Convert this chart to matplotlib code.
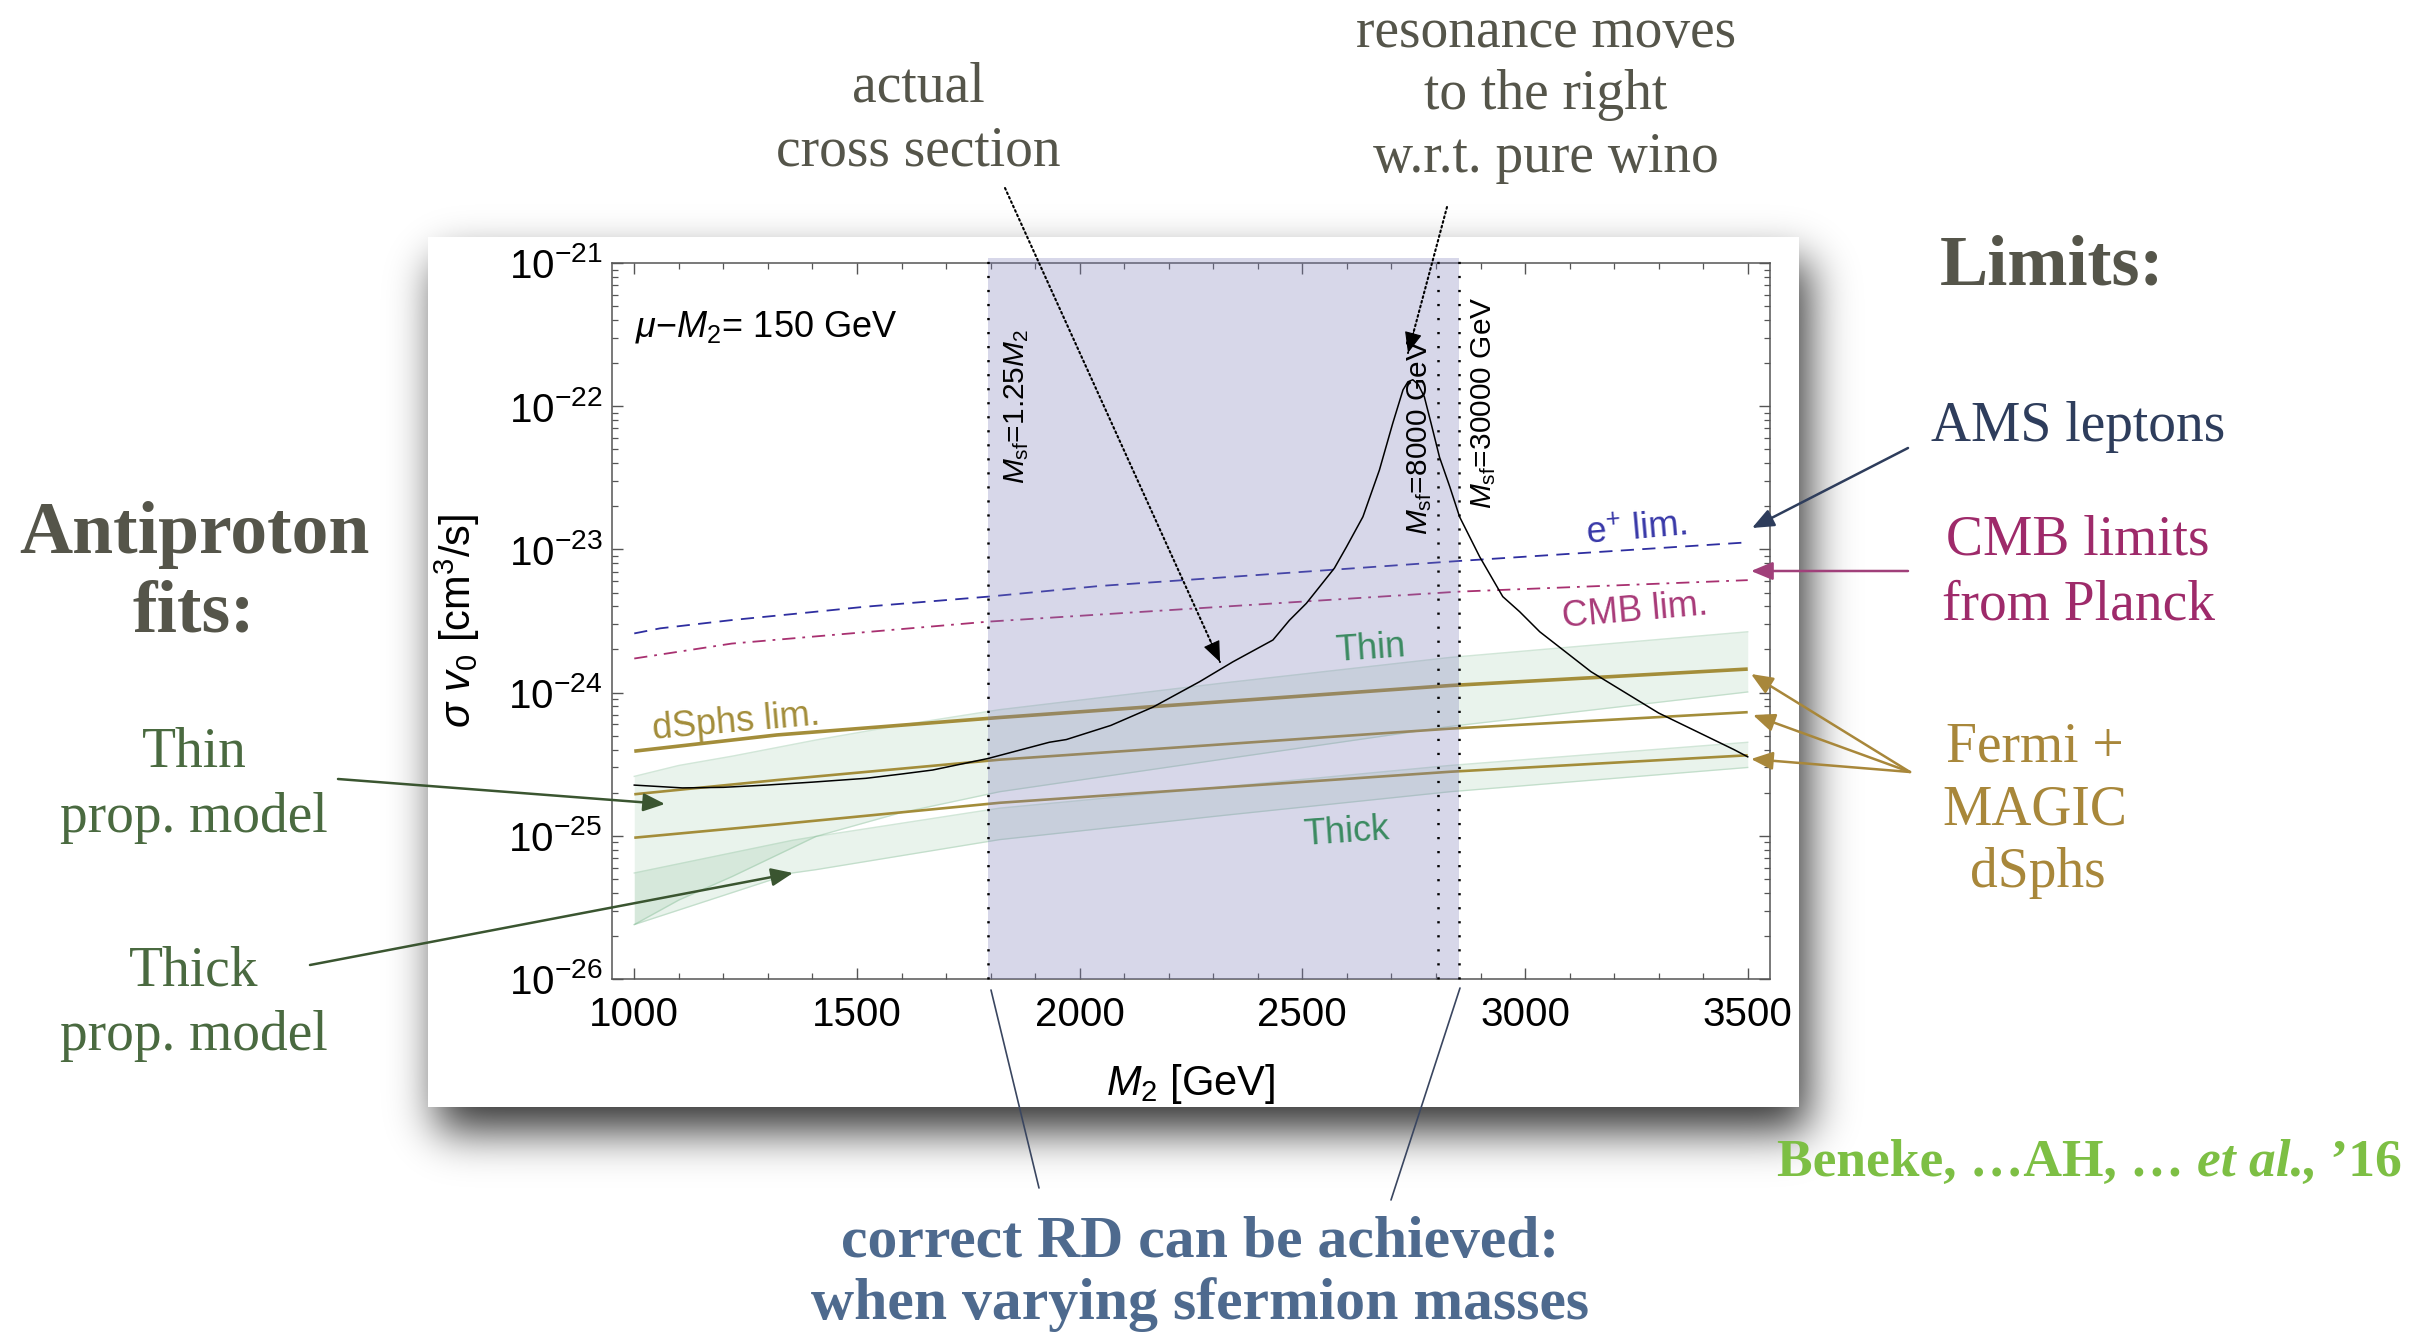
import numpy as np
import matplotlib
matplotlib.use('Agg')
import matplotlib.pyplot as plt
from matplotlib.patches import Rectangle
from matplotlib.ticker import LogLocator, MultipleLocator, NullFormatter

plt.rcParams['font.family'] = 'Liberation Sans'
plt.rcParams['mathtext.fontset'] = 'custom'
plt.rcParams['mathtext.rm'] = 'Liberation Sans'
plt.rcParams['mathtext.it'] = 'Liberation Sans:italic'
plt.rcParams['mathtext.bf'] = 'Liberation Sans:bold'
plt.rcParams['lines.scale_dashes'] = False

SERIF = 'Liberation Serif'
W, H = 2432, 1334

# annihilation cross section vs M2 (mu - M2 = 150 GeV)
m2_curve = [1000, 1108, 1200, 1296, 1400, 1520, 1600, 1670, 1795, 1932, 1970,
            2070, 2164, 2269, 2344, 2434, 2471, 2509, 2572, 2599, 2636, 2673,
            2703, 2726, 2737, 2748, 2760, 2774, 2789, 2808, 2831, 2853, 2898,
            2950, 2988, 3033, 3148, 3300, 3469, 3500]
sv_curve = [2.26e-25, 2.16e-25, 2.18e-25, 2.26e-25, 2.37e-25, 2.52e-25, 2.7e-25,
            2.88e-25, 3.47e-25, 4.5e-25, 4.7e-25, 5.9e-25, 7.9e-25, 1.19e-24,
            1.64e-24, 2.33e-24, 3.2e-24, 4.2e-24, 7.4e-24, 1.04e-23, 1.69e-23,
            3.58e-23, 7.6e-23, 1.3e-22, 1.48e-22, 1.53e-22, 1.42e-22, 1.16e-22,
            7.6e-23, 4.4e-23, 2.74e-23, 1.69e-23, 8.9e-24, 4.68e-24, 3.67e-24,
            2.66e-24, 1.4e-24, 7.2e-25, 4.0e-25, 3.56e-25]

# antiproton fit regions
m2_thin = [1000, 1100, 1220, 1408, 1595, 1820, 2325, 2831, 3500]
thin_hi = [2.6e-25, 3.1e-25, 3.6e-25, 4.67e-25, 5.9e-25, 7.6e-25, 1.17e-24, 1.76e-24, 2.66e-24]
thin_lo = [2.4e-26, 3.56e-26, 5.2e-26, 9.9e-26, 1.44e-25, 2.03e-25, 3.44e-25, 5.8e-25, 1.01e-24]

m2_thick = [1000, 1355, 1408, 1820, 2325, 2831, 3500]
thick_hi = [5.5e-26, 9.3e-26, 9.9e-26, 1.56e-25, 2.2e-25, 3.1e-25, 4.5e-25]
thick_lo = [2.4e-26, 5.5e-26, 5.8e-26, 9.4e-26, 1.39e-25, 2.03e-25, 3.0e-25]

# Fermi + MAGIC dwarf spheroidal limits
m2_dsph = [1000, 1320, 1820, 2831, 3500]
dsph_a = [3.9e-25, 5.06e-25, 6.7e-25, 1.12e-24, 1.46e-24]
dsph_b = [1.95e-25, 2.45e-25, 3.4e-25, 5.6e-25, 7.3e-25]
dsph_c = [9.7e-26, 1.2e-25, 1.7e-25, 2.8e-25, 3.65e-25]

# AMS positron and CMB (Planck) limits
m2_pos = [1000, 1058, 1219, 1369, 1519, 1795, 2044, 2851, 3500]
pos_lim = [2.59e-24, 2.81e-24, 3.21e-24, 3.57e-24, 3.98e-24, 4.68e-24, 5.55e-24, 8.3e-24, 1.12e-23]
m2_cmb = [1000, 1219, 1795, 2851, 3500]
cmb_lim = [1.73e-24, 2.2e-24, 3.13e-24, 5.07e-24, 6.1e-24]

# sfermion mass boundaries (M2 where the relic density fits)
msf_lines = [1795, 2804, 2852]
msf_labels = [r'$M_{\rm sf}$=1.25$M_2$', r'$M_{\rm sf}$=8000 GeV', r'$M_{\rm sf}$=30000 GeV']
msf_label_pos = [(1858, 9.9e-23), (2763, 6.1e-23), (2907, 1.05e-22)]

GOLD = '#a38d3a'
GREEN_BAND = (108 / 255, 175 / 255, 128 / 255)


def fx(px):
    return px / W


def fy(py):
    return 1 - py / H


def panel_shadow(x0, y0, x1, y1, dx=9, dy=24, sigma=22, depth=0.8):
    mask = np.zeros((H, W))
    mask[y0 + dy:y1 + dy, x0 + dx:x1 + dx] = 1.0
    ky = np.fft.fftfreq(H)[:, None]
    kx = np.fft.rfftfreq(W)[None, :]
    g = np.exp(-2 * np.pi ** 2 * sigma ** 2 * (kx ** 2 + ky ** 2))
    soft = np.fft.irfft2(np.fft.rfft2(mask) * g, s=(H, W))
    rgba = np.zeros((H, W, 4))
    rgba[..., 3] = np.clip(soft, 0, 1) * depth
    return rgba


fig = plt.figure(figsize=(W / 100, H / 100), dpi=100)
fig.patch.set_facecolor('white')

# white card with drop shadow behind the plot
px0, py0, px1, py1 = 428, 237, 1799, 1107
fig.figimage(panel_shadow(px0, py0, px1, py1), xo=0, yo=0, origin='upper', zorder=-2)
fig.add_artist(Rectangle((fx(px0), fy(py1)), (px1 - px0) / W, (py1 - py0) / H,
                         transform=fig.transFigure, facecolor='white',
                         edgecolor='none', zorder=-1))

ax = fig.add_axes([fx(612), fy(979), (1770 - 612) / W, (979 - 263) / H])
ax.set_zorder(1)
ax.set_yscale('log')
ax.set_xlim(950, 3550)
ax.set_ylim(1e-26, 1e-21)

# bands
for xs, lo, hi in [(m2_thin, thin_lo, thin_hi), (m2_thick, thick_lo, thick_hi)]:
    ax.fill_between(xs, lo, hi, color=GREEN_BAND, alpha=0.15, lw=0, zorder=1)
    ax.plot(xs, lo, color=GREEN_BAND, alpha=0.3, lw=1.0, zorder=1)
    ax.plot(xs, hi, color=GREEN_BAND, alpha=0.3, lw=1.0, zorder=1)

ax.plot(m2_dsph, dsph_a, color=GOLD, lw=2.6, zorder=2, solid_capstyle='butt')
ax.plot(m2_dsph, dsph_b, color=GOLD, lw=1.9, zorder=2, solid_capstyle='butt')
ax.plot(m2_dsph, dsph_c, color=GOLD, lw=1.9, zorder=2, solid_capstyle='butt')

ax.plot(m2_pos, pos_lim, color='#2e2ea0', lw=1.3, dashes=[9.5, 6], zorder=2)
ax.plot(m2_cmb, cmb_lim, color='#a83070', lw=1.3, dashes=[9.5, 5, 2, 5], zorder=2)

# region where the relic density can be reached
ax.axvspan(msf_lines[0], msf_lines[2], ymin=0, ymax=1.007, facecolor=(125 / 255, 125 / 255, 185 / 255),
           alpha=0.3, lw=0, zorder=3, clip_on=False)
for m in msf_lines:
    ax.axvline(m, ymin=0, ymax=1.007, color='black', lw=1.8, dashes=[1.6, 8.5], zorder=4,
               clip_on=False)

ax.plot(m2_curve, sv_curve, color='black', lw=1.1, zorder=4)

# text inside the frame
ax.text(1002, 3.6e-22, r'$\mu$$-$$M_2$= 150 GeV', fontsize=26, ha='left', va='center', zorder=5)
for s, (mx, my) in zip(msf_labels, msf_label_pos):
    ax.text(mx, my, s, fontsize=21.5, rotation=90, ha='center', va='center', zorder=5)
ax.text(3251, 1.36e-23, r'e$^{+}$ lim.', fontsize=26, color='#3838a8', rotation=5,
        ha='center', va='center', zorder=5)
ax.text(3248, 3.7e-24, 'CMB lim.', fontsize=26, color='#a83a78', rotation=5,
        ha='center', va='center', zorder=5)
ax.text(2653, 2.0e-24, 'Thin', fontsize=26, color='#3a8a60', rotation=4,
        ha='center', va='center', zorder=5)
ax.text(2599, 1.06e-25, 'Thick', fontsize=26, color='#3a8a60', rotation=4,
        ha='center', va='center', zorder=5)
ax.text(1229, 6.2e-25, 'dSphs lim.', fontsize=26, color=GOLD, rotation=5,
        ha='center', va='center', zorder=5)

# axes styling
ax.xaxis.set_major_locator(MultipleLocator(500))
ax.xaxis.set_minor_locator(MultipleLocator(100))
ax.yaxis.set_major_locator(LogLocator(base=10, numticks=20))
ax.yaxis.set_minor_locator(LogLocator(base=10, subs=np.arange(2, 10), numticks=20))
ax.yaxis.set_minor_formatter(NullFormatter())
ax.tick_params(which='both', direction='in', top=True, right=True, color='#555555')
ax.tick_params(which='major', length=8, width=1.0, labelsize=29)
ax.tick_params(axis='x', which='major', pad=12)
ax.tick_params(axis='y', which='major', pad=7)
ax.tick_params(which='minor', length=4, width=0.9)
for sp in ax.spines.values():
    sp.set_color('#555555')
    sp.set_linewidth(1.1)

ax.set_xlabel(r'$M_2$ [GeV]', fontsize=30)
ax.set_ylabel(r'$\sigma\ v_0$ [cm$^3$/s]', fontsize=30)
ax.xaxis.set_label_coords(0.5, -0.116)
ax.yaxis.set_label_coords(-0.112, 0.5)


def slide_text(x, y, s, size, color, weight='normal', style='normal', ha='center'):
    return fig.text(fx(x), fy(y), s, fontsize=size, color=color, family=SERIF,
                    weight=weight, style=style, ha=ha, va='center')


def slide_arrow(p0, p1, color, lw, dotted=False, head=True, hl=0.6, hw=0.25):
    xy0 = (fx(p0[0]), fy(p0[1]))
    xy1 = (fx(p1[0]), fy(p1[1]))
    if dotted:
        ax.annotate('', xy=xy1, xycoords='figure fraction', xytext=xy0,
                    textcoords='figure fraction', annotation_clip=False,
                    arrowprops=dict(arrowstyle='-', color=color, lw=lw,
                                    linestyle=(0, (1.3, 2.2)), shrinkA=0, shrinkB=0))
        if head:
            d = np.array(p1, float) - np.array(p0, float)
            base = np.array(p1) - 22 * d / np.hypot(*d)
            ax.annotate('', xy=xy1, xycoords='figure fraction',
                        xytext=(fx(base[0]), fy(base[1])), textcoords='figure fraction',
                        annotation_clip=False,
                        arrowprops=dict(arrowstyle=f'-|>,head_length={hl},head_width={hw}',
                                        color=color, lw=0.8, shrinkA=0, shrinkB=0,
                                        mutation_scale=22))
        return
    style = f'-|>,head_length={hl},head_width={hw}' if head else '-'
    ax.annotate('', xy=xy1, xycoords='figure fraction', xytext=xy0,
                textcoords='figure fraction', annotation_clip=False,
                arrowprops=dict(arrowstyle=style, color=color, lw=lw, shrinkA=0,
                                shrinkB=0, mutation_scale=22))


# headline annotations
DARK = '#55554a'
slide_text(918, 87, 'actual', 40, DARK)
slide_text(918, 152, 'cross section', 40, DARK)
slide_text(1546, 33, 'resonance moves', 40, DARK)
slide_text(1546, 95, 'to the right', 40, DARK)
slide_text(1546, 158, 'w.r.t. pure wino', 40, DARK)
slide_arrow((1005, 188), (1220, 662), 'black', 1.5, dotted=True)
slide_arrow((1447, 207), (1408, 353), 'black', 1.5, dotted=True)

# left column
slide_text(194, 535, 'Antiproton', 53, DARK, weight='bold')
slide_text(194, 613, 'fits:', 53, DARK, weight='bold')
TGREEN = '#4a6a40'
slide_text(194, 753, 'Thin', 40, TGREEN)
slide_text(194, 818, 'prop. model', 40, TGREEN)
slide_text(194, 971, 'Thick', 40, TGREEN)
slide_text(194, 1036, 'prop. model', 40, TGREEN)
slide_arrow((338, 779), (665, 804), '#3a5530', 1.8)
slide_arrow((310, 965), (793, 873), '#3a5530', 1.8)

# right column
slide_text(2052, 267, 'Limits:', 52, DARK, weight='bold')
slide_text(2078, 427, 'AMS leptons', 40, '#2e3d5c')
slide_arrow((1908, 448), (1752, 528), '#2e3d5c', 1.8)
slide_text(2078, 541, 'CMB limits', 40, '#9e2a6a')
slide_text(2078, 605, 'from Planck', 40, '#9e2a6a')
slide_arrow((1908, 571), (1751, 571), '#a0407a', 1.8)
FGOLD = '#a8873a'
slide_text(2035, 748, 'Fermi +', 40, FGOLD)
slide_text(2035, 810, 'MAGIC', 40, FGOLD)
slide_text(2038, 873, 'dSphs', 40, FGOLD)
for tip in [(1751, 674), (1753, 715), (1751, 759)]:
    slide_arrow((1910, 772), tip, FGOLD, 1.8)

# bottom statement with pointers to the sfermion mass range
RDBLUE = '#4e6a8e'
slide_text(1200, 1243, 'correct RD can be achieved:', 43, RDBLUE, weight='bold')
slide_text(1200, 1305, 'when varying sfermion masses', 43, RDBLUE, weight='bold')
slide_arrow((991, 990), (1039, 1188), '#3a4660', 1.2, head=False)
slide_arrow((1460, 988), (1391, 1200), '#3a4660', 1.2, head=False)

# reference, built right to left
CGREEN = '#7dbf44'
renderer = fig.canvas.get_renderer()
xr = 2402
for s, st in [(' \u201916', 'normal'), ('et al.,', 'italic'), ('Beneke, \u2026AH, \u2026 ', 'normal')]:
    t = slide_text(xr, 1163, s, 38.5, CGREEN, weight='bold', style=st, ha='right')
    xr -= t.get_window_extent(renderer).width

fig.savefig('out.png', dpi=100)
